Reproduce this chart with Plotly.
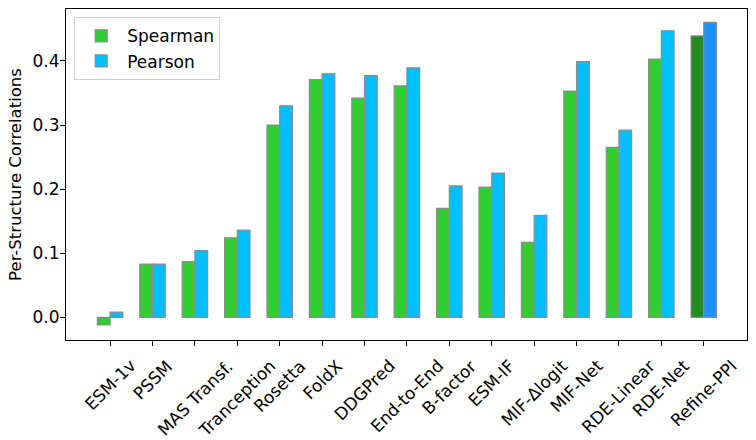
import plotly.graph_objects as go

# ── data ─────────────────────────────────────────────
methods = ["ESM-1v", "PSSM", "MAS Transf.", "Tranception", "Rosetta", "FoldX",
           "DDGPred", "End-to-End", "B-factor", "ESM-IF", "MIF-Δlogit",
           "MIF-Net", "RDE-Linear", "RDE-Net", "Refine-PPI"]
spearman = [-0.012, 0.083, 0.087, 0.124, 0.300, 0.371, 0.342, 0.361,
            0.170, 0.203, 0.117, 0.353, 0.265, 0.403, 0.439]
pearson = [0.008, 0.083, 0.104, 0.136, 0.330, 0.380, 0.377, 0.389,
           0.205, 0.225, 0.159, 0.399, 0.292, 0.447, 0.460]
y_ticks = [0.0, 0.1, 0.2, 0.3, 0.4]

# last method highlighted with darker colours
sp_colors = ["#32CD32"] * (len(methods) - 1) + ["#228B22"]
pe_colors = ["#00BFFF"] * (len(methods) - 1) + ["#1E90FF"]

FONT = "DejaVu Sans"
W = 0.3

fig = go.Figure()
fig.add_trace(go.Bar(
    x=methods, y=spearman, name="Spearman",
    width=W, offset=-W,
    marker=dict(color=sp_colors, line=dict(color="#8c8c8c", width=1.2)),
))
fig.add_trace(go.Bar(
    x=methods, y=pearson, name="Pearson",
    width=W, offset=0,
    marker=dict(color=pe_colors, line=dict(color="#8c8c8c", width=1.2)),
))

# rotated category labels centred under each tick (matplotlib style)
for m in methods:
    fig.add_annotation(
        x=m, y=0, yref="paper", text=m, showarrow=False,
        textangle=-45, xanchor="center", yanchor="top", yshift=-13,
        font=dict(family=FONT, size=17, color="black"),
    )

fig.update_layout(
    width=756, height=440,
    margin=dict(l=66, r=9, t=9, b=100),
    paper_bgcolor="white", plot_bgcolor="white",
    barmode="overlay",
    font=dict(family=FONT, size=17, color="black"),
    showlegend=True,
    legend=dict(
        x=0.012, y=0.975, xanchor="left", yanchor="top",
        bgcolor="white", bordercolor="#d0d0d0", borderwidth=1,
        itemwidth=42,
        font=dict(family=FONT, size=17, color="black"),
    ),
)
fig.update_xaxes(
    type="category", range=[-1.04, 15.02], automargin=False,
    showticklabels=False, ticks="outside", ticklen=5, tickwidth=1, tickcolor="black",
    showline=True, linecolor="black", linewidth=1, mirror=True,
    showgrid=False, zeroline=False,
)
fig.update_yaxes(
    range=[-0.0354, 0.481], automargin=False,
    tickvals=y_ticks, tickformat=".1f", ticklabelstandoff=-3,
    ticks="outside", ticklen=5, tickwidth=1, tickcolor="black",
    showline=True, linecolor="black", linewidth=1, mirror=True,
    showgrid=False, zeroline=False,
    title=dict(text="Per-Structure Correlations", standoff=6,
               font=dict(family=FONT, size=16.5, color="black")),
)

# page body has a default 8px margin; drop it so the figure fills the window
fig.write_html("out.html", config={"displayModeBar": False},
               post_script="document.body.style.margin='0';")
